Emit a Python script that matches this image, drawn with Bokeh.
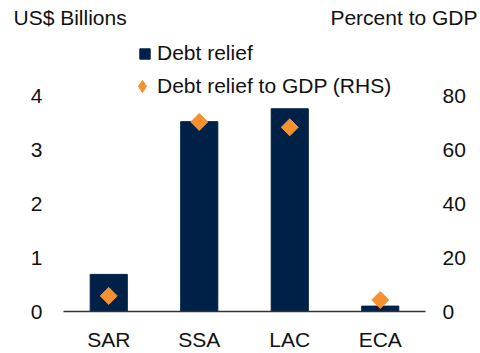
import math
from bokeh.plotting import figure
from bokeh.layouts import column
from bokeh.models import (Range1d, LinearAxis, FixedTicker, Legend,
                          LegendItem, FactorRange)
from bokeh.embed import file_html
from bokeh.resources import INLINE
from bokeh.core.properties import value

categories = ["SAR", "SSA", "LAC", "ECA"]
debt_relief = [0.69, 3.53, 3.77, 0.10]          # US$ billions (LHS)
debt_relief_gdp = [5.8, 70.5, 68.5, 4.3]        # percent of GDP (RHS)
left_ticks = [0, 1, 2, 3, 4]
right_ticks = [0, 20, 40, 60, 80]
left_title = "US$ Billions"
right_title = "Percent to GDP"

FONT = "Liberation Sans"
FS = "21px"
NAVY = "#002147"
ORANGE = "#F5922F"
TXT = "#111111"

W = 480
TOP_H = 34
MAIN_H = 353 - TOP_H

# ---- title strip ---------------------------------------------------------
t = figure(width=W, height=TOP_H, x_range=Range1d(0, W), y_range=Range1d(0, TOP_H),
           x_axis_type=None, y_axis_type=None, output_backend="svg",
           toolbar_location=None, min_border=0)
t.frame_align = False
t.outline_line_color = None
t.xgrid.visible = False
t.ygrid.visible = False
t.text(x=[13], y=[TOP_H - 17], text=[left_title], text_font=value(FONT),
       text_font_size=FS, text_color=TXT, text_align="left", text_baseline="middle")
t.text(x=[W - 3], y=[TOP_H - 17], text=[right_title], text_font=value(FONT),
       text_font_size=FS, text_color=TXT, text_align="right", text_baseline="middle")

# ---- main chart ----------------------------------------------------------
FRAME_H = MAIN_H - 37            # 54.75 px per US$ 1bn
LEFT_MAX = FRAME_H / 54.75
p = figure(width=W, height=MAIN_H,
           x_range=FactorRange(*categories, range_padding=0),
           y_range=Range1d(0, LEFT_MAX),
           output_backend="svg", toolbar_location=None,
           min_border_left=63, min_border_right=55,
           min_border_top=0, min_border_bottom=37)
p.frame_align = False
p.extra_y_ranges = {"pct": Range1d(0, LEFT_MAX * 20)}

p.outline_line_color = None
p.xgrid.visible = False
p.ygrid.visible = False
p.background_fill_color = "white"
p.border_fill_color = "white"

bars = p.vbar(x=categories, top=debt_relief, width=0.41,
              fill_color=NAVY, line_color=NAVY)
# diamond key shape (sits inside the rotated-square markers drawn on top)
key = p.scatter(x=categories, y=debt_relief_gdp, y_range_name="pct",
                marker="diamond", size=12, fill_color=ORANGE, line_color=ORANGE)
pts = p.scatter(x=categories, y=debt_relief_gdp, y_range_name="pct",
                marker="square", size=12, angle=math.pi / 4,
                fill_color=ORANGE, line_color=ORANGE)

def style(ax, standoff):
    ax.axis_line_color = None
    ax.major_tick_line_color = None
    ax.minor_tick_line_color = None
    ax.major_label_standoff = standoff
    ax.major_label_text_font = FONT
    ax.major_label_text_font_size = FS
    ax.major_label_text_color = TXT

ya = p.yaxis[0]
ya.ticker = FixedTicker(ticks=left_ticks)
style(ya, 15)

ra = LinearAxis(y_range_name="pct", ticker=FixedTicker(ticks=right_ticks))
style(ra, 11)
p.add_layout(ra, "right")

xa = p.xaxis[0]
style(xa, 10)
xa.axis_line_color = "#333333"
xa.axis_line_width = 1.5

def make_legend(item, loc, gw, standoff):
    lg = Legend(items=[item], location=loc, orientation="vertical",
                glyph_width=gw, glyph_height=gw, label_standoff=standoff,
                padding=0, margin=0, spacing=0,
                border_line_color=None, background_fill_alpha=0,
                label_text_font=FONT, label_text_font_size=FS,
                label_text_color=TXT, label_height=20)
    p.add_layout(lg)

make_legend(LegendItem(label="Debt relief", renderers=[bars]), (75, 246), 13, 6)
make_legend(LegendItem(label="Debt relief to GDP (RHS)", renderers=[key]), (64, 210), 30, 0)

layout = column(t, p, spacing=0)
open("out.html", "w").write(file_html(layout, INLINE))
